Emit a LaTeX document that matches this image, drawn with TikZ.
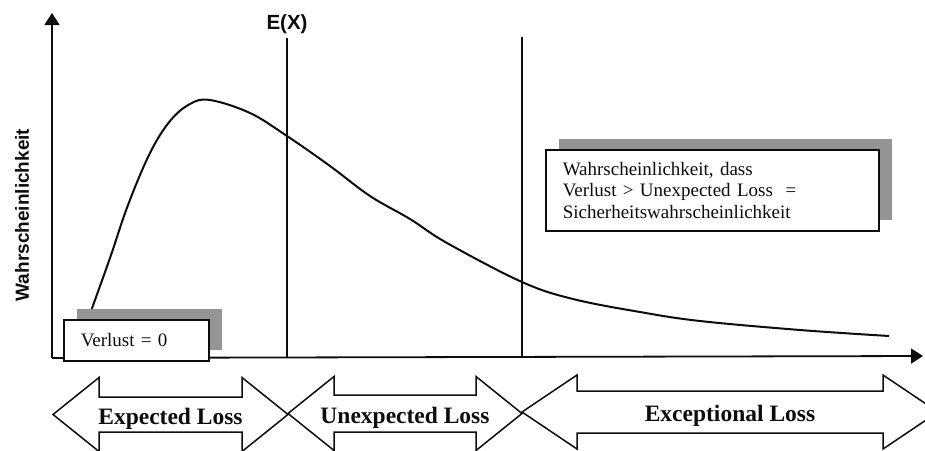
\documentclass[tikz,border=0pt]{standalone}
\usepackage{fontspec}
\setmainfont{Liberation Serif}
\setsansfont{Liberation Sans}
\usetikzlibrary{arrows.meta,shadows}
\definecolor{inkcolor}{gray}{0.05}
\definecolor{shadecolor}{gray}{0.58}
\def\H{46}% head length of the loss arrows
\def\W{37}% half width of the heads
\begin{document}
\begin{tikzpicture}[x=1pt,y=-1pt,draw=inkcolor,text=inkcolor,
    axis/.style={line width=1.8pt,-{Triangle[length=12pt,width=15pt]}},
    marker/.style={line width=1.5pt},
    density/.style={line width=2pt},
    infobox/.style={draw,line width=1.5pt,fill=white,anchor=north west,align=left,
        inner xsep=17pt,font=\fontsize{19}{21.7}\selectfont,
        drop shadow={shadow xshift=13pt,shadow yshift=11pt,fill=shadecolor,opacity=1}},
    lossarrow/.style={draw,line width=1.5pt,fill=white},
    losslabel/.style={anchor=base,font=\fontsize{23.5}{28}\selectfont\bfseries}]
\useasboundingbox (0,0) rectangle (925,450);
\clip (0,0) rectangle (925,450);
% axes
\draw[axis] (52,358) -- (52,13);
\draw[axis] (52,358) -- (923,356);
\node[rotate=90,font=\fontsize{19}{23}\sffamily\bfseries] (ylab) at (22,215) {Wahrscheinlichkeit};
% expected value and unexpected loss limit
\node[font=\fontsize{20.5}{24}\sffamily\bfseries] (ex) at (287,24) {E(X)};
\draw[marker] (287,38) -- (287,358);
\draw[marker] (522,37) -- (522,358);
% loss density
\draw[density] plot[smooth,tension=0.6] coordinates {(91,311) (110,258) (128,205) (150,153)
    (170,121) (190,104) (210,100) (250,113) (287,136) (330,166) (370,196) (410,219)
    (447,243) (522,282) (573,299) (640,312) (700,321) (800,330) (889,336)};
% annotation boxes
\node[infobox,minimum width=145pt,minimum height=41pt,text width=111pt] (zero) at (63,319) {Verlust = 0};
\node[infobox,minimum width=333pt,minimum height=81pt,text width=299pt] (tail) at (545,149)
    {Wahrscheinlichkeit, dass\\Verlust > Unexpected Loss\ \ =\\Sicherheitswahrscheinlichkeit};
% loss regions
\foreach \a/\b/\c/\s/\h/\name/\txt in {53/288/414.5/17.5/46/expected/Expected Loss,
        288/522/413.5/18.5/46/unexpected/Unexpected Loss,
        522/938/412/21/55/exceptional/Exceptional Loss}{
    \draw[lossarrow] (\a,\c) -- ({\a+\h},{\c-\W}) -- ({\a+\h},{\c-\s}) -- ({\b-\h},{\c-\s})
        -- ({\b-\h},{\c-\W}) -- (\b,\c) -- ({\b-\h},{\c+\W}) -- ({\b-\h},{\c+\s})
        -- ({\a+\h},{\c+\s}) -- ({\a+\h},{\c+\W}) -- cycle;
    \node[losslabel] (\name) at ({(\a+\b)/2},{\c+9.5}) {\txt};
}
\end{tikzpicture}
\end{document}
